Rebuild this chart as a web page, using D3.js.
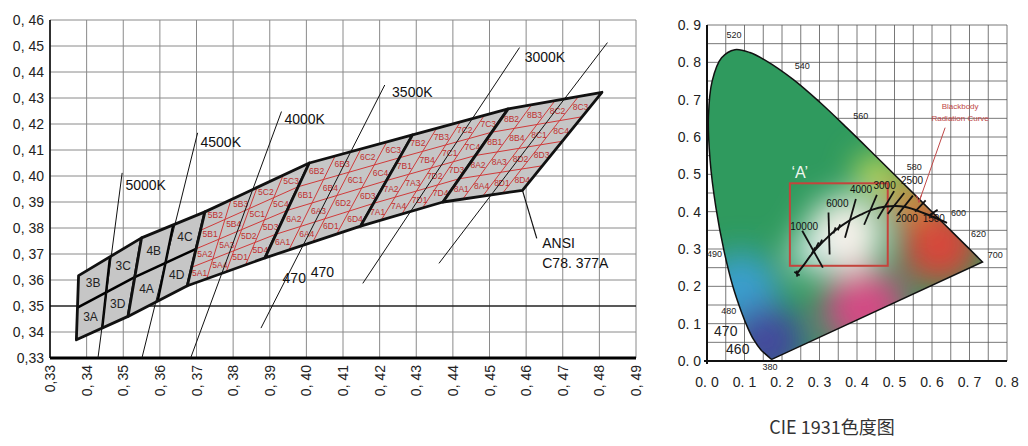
<!DOCTYPE html><html><head><meta charset="utf-8">
<script src="https://cdn.jsdelivr.net/npm/d3@7"></script>
<style>body{margin:0;background:#fff}svg{font-family:"Liberation Sans",Arial,sans-serif}</style></head><body>
<svg id="c" width="1028" height="446"></svg>
<script>
// ---------- LEFT CHART DATA (CIE x,y) ----------
const xTicks=[0.33,0.34,0.35,0.36,0.37,0.38,0.39,0.40,0.41,0.42,0.43,0.44,0.45,0.46,0.47,0.48,0.49];
const yTicks=[0.33,0.34,0.35,0.36,0.37,0.38,0.39,0.40,0.41,0.42,0.43,0.44,0.45,0.46];
const binEdges=[
 [[0.3372,0.3370],[0.3378,0.3617]],
 [[0.3513,0.3460],[0.3550,0.3762]],
 [[0.3675,0.3578],[0.3723,0.3862]],
 [[0.3887,0.3685],[0.4008,0.4050]],
 [[0.4148,0.3807],[0.4290,0.4158]],
 [[0.4373,0.3900],[0.4551,0.4258]],
 [[0.4590,0.3945],[0.4807,0.4322]]];
const binNames=["3","4","5","6","7","8"];
const binSub=[false,false,true,true,true,true];
const cctLines=[
 {k:"5000K",a:[0.3431,0.33],b:[0.3497,0.4012],l:[0.3506,0.3964]},
 {k:"4500K",a:[0.3551,0.33],b:[0.3703,0.4166],l:[0.3711,0.4130]},
 {k:"4000K",a:[0.3684,0.33],b:[0.3932,0.4248],l:[0.3940,0.4219]},
 {k:"3500K",a:[0.3876,0.3415],b:[0.4214,0.4350],l:[0.4234,0.4324]},
 {k:"3000K",a:[0.4154,0.3587],b:[0.4582,0.4494],l:[0.4596,0.4456]},
 {k:"",a:[0.4362,0.3664],b:[0.4822,0.4513],l:null}];
const extraLabels=[["470",0.3935,0.3606],["470",0.4012,0.3629],["ANSI",0.4644,0.3741],["C78. 377A",0.4644,0.3664]];
const ansiLeader=[[0.4590,0.3945],[0.4629,0.3760]];

// ---------- RIGHT CHART DATA ----------
const cieTicks=[0,0.1,0.2,0.3,0.4,0.5,0.6,0.7,0.8];
const cieYTicks=[0,0.1,0.2,0.3,0.4,0.5,0.6,0.7,0.8,0.9];
const locus=[[380,0.1741,0.0050],[420,0.1714,0.0051],[440,0.1644,0.0109],[450,0.1566,0.0177],[460,0.1440,0.0297],[470,0.1241,0.0578],[475,0.1096,0.0868],[480,0.0913,0.1327],[485,0.0687,0.2007],[490,0.0454,0.2950],[495,0.0235,0.4127],[500,0.0082,0.5384],[505,0.0039,0.6548],[510,0.0139,0.7502],[515,0.0389,0.8120],[520,0.0743,0.8338],[525,0.1142,0.8262],[530,0.1547,0.8059],[540,0.2296,0.7543],[550,0.3016,0.6923],[560,0.3731,0.6245],[570,0.4441,0.5547],[580,0.5125,0.4866],[590,0.5752,0.4242],[600,0.6270,0.3725],[620,0.6915,0.3083],[640,0.7190,0.2809],[700,0.7347,0.2653]];
const wlLabels=[["520",0.072,0.865,9],["540",0.254,0.781,9],["560",0.410,0.647,9],["580",0.553,0.511,9],["600",0.671,0.389,9],["620",0.724,0.332,9],["700",0.769,0.275,9],["490",0.02,0.278,9],["480",0.058,0.126,9],["470",0.050,0.066,14],["460",0.082,0.018,14],["380",0.168,-0.023,9]];
const planck=[[0.2399,0.2342],[0.2568,0.2552],[0.2807,0.2884],[0.3000,0.3100],[0.3221,0.3318],[0.3450,0.3520],[0.3805,0.3768],[0.4100,0.3920],[0.4369,0.4041],[0.4770,0.4137],[0.5267,0.4133],[0.5857,0.3931],[0.6400,0.3700]];
const isoTicks=[[[0.254,0.349],[0.309,0.250]],[[0.324,0.398],[0.327,0.285]],[[0.397,0.434],[0.368,0.330]],[[0.453,0.445],[0.419,0.365]],[[0.499,0.455],[0.455,0.381]],[[0.526,0.450],[0.482,0.394]],[[0.549,0.443],[0.509,0.392]],[[0.583,0.430],[0.555,0.400]],[[0.615,0.405],[0.595,0.392]],
 [[0.288,0.304],[0.280,0.288]],[[0.298,0.318],[0.290,0.302]],[[0.307,0.325],[0.299,0.309]],[[0.343,0.358],[0.337,0.342]],[[0.355,0.366],[0.349,0.350]],[[0.2395,0.242],[0.2405,0.226]]];
const cctTxt=[["10000",0.222,0.352],["6000",0.318,0.413],["4000",0.381,0.449],["3000",0.444,0.461],["2500",0.517,0.474],["2000",0.503,0.373],["1500",0.575,0.373]];
const boxA=[0.221,0.255,0.482,0.476];

const svg=d3.select("#c");
// ===== LEFT =====
const X=d3.scaleLinear([0.33,0.49],[50,636]), Y=d3.scaleLinear([0.33,0.46],[358,20]);
const gl=svg.append("g");
gl.selectAll(".vx").data(xTicks).join("line").attr("x1",d=>X(d)).attr("x2",d=>X(d)).attr("y1",Y(0.46)).attr("y2",Y(0.33)).attr("stroke","#8a8a8a");
gl.selectAll(".hy").data(yTicks).join("line").attr("x1",X(0.33)).attr("x2",X(0.49)).attr("y1",d=>Y(d)).attr("y2",d=>Y(d)).attr("stroke",d=>d===0.35?"#222":"#8a8a8a").attr("stroke-width",d=>d===0.35?1.3:1);
gl.append("line").attr("x1",X(0.33)).attr("x2",X(0.33)).attr("y1",Y(0.46)).attr("y2",Y(0.33)).attr("stroke","#000").attr("stroke-width",1.5);
gl.append("line").attr("x1",X(0.33)).attr("x2",X(0.49)).attr("y1",Y(0.33)).attr("y2",Y(0.33)).attr("stroke","#000").attr("stroke-width",3);
gl.selectAll(".yl").data(yTicks).join("text").attr("x",44).attr("y",d=>Y(d)+5).attr("text-anchor","end").attr("font-size",14).attr("fill","#222")
 .text(d=>d===0.33?"0,33":"0, "+Math.round(d*100));
gl.selectAll(".xl").data(xTicks).join("text").attr("transform",d=>`translate(${X(d)+5},365) rotate(-90)`).attr("text-anchor","end").attr("font-size",14).attr("fill","#222")
 .text(d=>d===0.33?"0,33":"0, "+Math.round(d*100));
const P=p=>[X(p[0]),Y(p[1])];
const lerp=(a,b,t)=>[a[0]+(b[0]-a[0])*t,a[1]+(b[1]-a[1])*t];
const quadPt=(L,R,u,v)=>lerp(lerp(L[0],R[0],u),lerp(L[1],R[1],u),v);
const line=d3.line();
binNames.forEach((nm,i)=>{
 const L=binEdges[i],R=binEdges[i+1];
 const poly=[L[0],L[1],R[1],R[0]].map(P);
 gl.append("path").attr("d",line(poly)+"Z").attr("fill","#c6c6c6");
 if(binSub[i]){
  [0.25,0.5,0.75].forEach(t=>{
   gl.append("path").attr("d",line([quadPt(L,R,t,0),quadPt(L,R,t,1)].map(P))).attr("stroke","#d03a3a").attr("stroke-width",1);
   gl.append("path").attr("d",line([quadPt(L,R,0,t),quadPt(L,R,1,t)].map(P))).attr("stroke","#d03a3a").attr("stroke-width",1);
  });
  for(let a=0;a<4;a++)for(let b=0;b<4;b++){
   const q=(a<2?(b<2?"A":"B"):(b<2?"D":"C"));
   const ia=a%2,ib=b%2;const idx=ia===0?(ib===0?1:2):(ib===1?3:4);
   const c=P(quadPt(L,R,(a+0.5)/4,(b+0.5)/4));
   gl.append("text").attr("x",c[0]).attr("y",c[1]+3).attr("text-anchor","middle").attr("font-size",8.5).attr("fill","#c03030").text(nm+q+idx);
  }
 } else {
  gl.append("path").attr("d",line([quadPt(L,R,0.5,0),quadPt(L,R,0.5,1)].map(P))).attr("stroke","#000").attr("stroke-width",2.5);
  gl.append("path").attr("d",line([quadPt(L,R,0,0.5),quadPt(L,R,1,0.5)].map(P))).attr("stroke","#000").attr("stroke-width",2.5);
  [["A",0.25,0.25],["B",0.25,0.75],["C",0.75,0.75],["D",0.75,0.25]].forEach(([q,u,v])=>{
   const c=P(quadPt(L,R,u,v));
   gl.append("text").attr("x",c[0]).attr("y",c[1]+4).attr("text-anchor","middle").attr("font-size",12).attr("fill","#222").text(nm+q);
  });
 }
 gl.append("path").attr("d",line(poly)+"Z").attr("fill","none").attr("stroke","#111").attr("stroke-width",2.8).attr("stroke-linejoin","round");
});
cctLines.forEach(c=>{
 gl.append("path").attr("d",line([c.a,c.b].map(P))).attr("stroke","#111").attr("stroke-width",1);
 if(c.l) gl.append("text").attr("x",X(c.l[0])).attr("y",Y(c.l[1])+5).attr("font-size",14).attr("fill","#111").text(c.k);
});
gl.append("path").attr("d",line(ansiLeader.map(P))).attr("stroke","#111").attr("stroke-width",1.2);
extraLabels.forEach(([t,x,y])=>gl.append("text").attr("x",X(x)).attr("y",Y(y)+5).attr("font-size",14).attr("fill","#111").text(t));

// ===== RIGHT =====
const CX=d3.scaleLinear([0,0.8],[707,1007]), CY=d3.scaleLinear([0,0.9],[361,25]);
const gr=svg.append("g");
const defs=svg.append("defs");
defs.append("filter").attr("id","bl").attr("x","-50%").attr("y","-50%").attr("width","200%").attr("height","200%").append("feGaussianBlur").attr("stdDeviation",16);
const locPath=d3.line().x(d=>CX(d[1])).y(d=>CY(d[2])).curve(d3.curveCatmullRom)(locus)+"Z";
defs.append("clipPath").attr("id","lc").append("path").attr("d",locPath);
const gridV=d3.range(0,17).map(i=>i*0.05), gridH=d3.range(0,19).map(i=>i*0.05);
gr.selectAll(".gv").data(gridV).join("line").attr("x1",d=>CX(d)).attr("x2",d=>CX(d)).attr("y1",CY(0)).attr("y2",CY(0.9)).attr("stroke","#555").attr("stroke-width",0.8);
gr.selectAll(".gh").data(gridH).join("line").attr("x1",CX(0)).attr("x2",CX(0.8)).attr("y1",d=>CY(d)).attr("y2",d=>CY(d)).attr("stroke","#555").attr("stroke-width",0.8);
const fillG=gr.append("g").attr("clip-path","url(#lc)");
fillG.append("path").attr("d",locPath).attr("fill","#2f9a5e");
const blobs=[[0.09,0.19,38,"#3a9fcf"],[0.16,0.05,38,"#434a9c"],[0.42,0.14,42,"#d24c84"],[0.62,0.31,40,"#d6473a"],[0.54,0.43,22,"#e7873c"],[0.45,0.50,20,"#cfe05a"],[0.37,0.34,38,"#f6f1ea"],[0.28,0.29,20,"#dff0ef"]];
fillG.append("g").attr("filter","url(#bl)").selectAll("circle").data(blobs).join("circle").attr("cx",d=>CX(d[0])).attr("cy",d=>CY(d[1])).attr("r",d=>d[2]).attr("fill",d=>d[3]);
gr.append("path").attr("d",locPath).attr("fill","none").attr("stroke","#111").attr("stroke-width",1.5);
gr.append("line").attr("x1",CX(0)).attr("x2",CX(0)).attr("y1",CY(0)+3).attr("y2",CY(0.9)).attr("stroke","#111").attr("stroke-width",2);
gr.append("line").attr("x1",CX(0)-3).attr("x2",CX(0.8)).attr("y1",CY(0)).attr("y2",CY(0)).attr("stroke","#111").attr("stroke-width",2);
gr.selectAll(".cyl").data(cieYTicks).join("text").attr("x",701).attr("y",d=>CY(d)+5).attr("text-anchor","end").attr("font-size",14).attr("fill","#222").text(d=>d.toFixed(1).replace(".",". "));
gr.selectAll(".cxl").data(cieTicks).join("text").attr("x",d=>CX(d)).attr("y",387).attr("text-anchor","middle").attr("font-size",14).attr("fill","#222").text(d=>d.toFixed(1).replace(".",". "));
wlLabels.forEach(([t,x,y,s])=>gr.append("text").attr("x",CX(x)).attr("y",CY(y)).attr("text-anchor","middle").attr("font-size",s).attr("fill","#222").text(t));
gr.append("rect").attr("x",CX(boxA[0])).attr("y",CY(boxA[3])).attr("width",CX(boxA[2])-CX(boxA[0])).attr("height",CY(boxA[1])-CY(boxA[3])).attr("fill","none").attr("stroke","#c4443c").attr("stroke-width",2);
gr.append("text").attr("x",CX(0.225)).attr("y",CY(0.49)).attr("font-size",16).attr("fill","#eef6ee").text("‘A’");
gr.append("path").attr("d",d3.line().x(d=>CX(d[0])).y(d=>CY(d[1])).curve(d3.curveCatmullRom)(planck)).attr("fill","none").attr("stroke","#111").attr("stroke-width",2);
isoTicks.forEach(t=>gr.append("line").attr("x1",CX(t[0][0])).attr("y1",CY(t[0][1])).attr("x2",CX(t[1][0])).attr("y2",CY(t[1][1])).attr("stroke","#111").attr("stroke-width",1.8));
gr.append("line").attr("x1",CX(0.233)).attr("y1",CY(0.239)).attr("x2",CX(0.247)).attr("y2",CY(0.229)).attr("stroke","#111").attr("stroke-width",1.8);
cctTxt.forEach(([t,x,y])=>gr.append("text").attr("x",CX(x)).attr("y",CY(y)).attr("font-size",10).attr("fill","#111").text(t));
gr.append("text").attr("x",CX(0.675)).attr("y",CY(0.675)).attr("text-anchor","middle").attr("font-size",8).attr("fill","#c04848").text("Blackbody");
gr.append("text").attr("x",CX(0.675)).attr("y",CY(0.642)).attr("text-anchor","middle").attr("font-size",8).attr("fill","#c04848").text("Radiation Curve");
gr.append("line").attr("x1",CX(0.635)).attr("y1",CY(0.625)).attr("x2",CX(0.565)).attr("y2",CY(0.425)).attr("stroke","#c04848").attr("stroke-width",1);
gr.append("path").attr("d",d3.line()([[CX(0.558),CY(0.445)],[CX(0.565),CY(0.425)],[CX(0.572),CY(0.445)]])).attr("fill","none").attr("stroke","#c04848");
svg.append("text").attr("x",832).attr("y",434).attr("text-anchor","middle").attr("font-family","Noto Sans CJK SC").attr("font-size",18).attr("fill","#333").text("CIE 1931色度图");
</script></body></html>
